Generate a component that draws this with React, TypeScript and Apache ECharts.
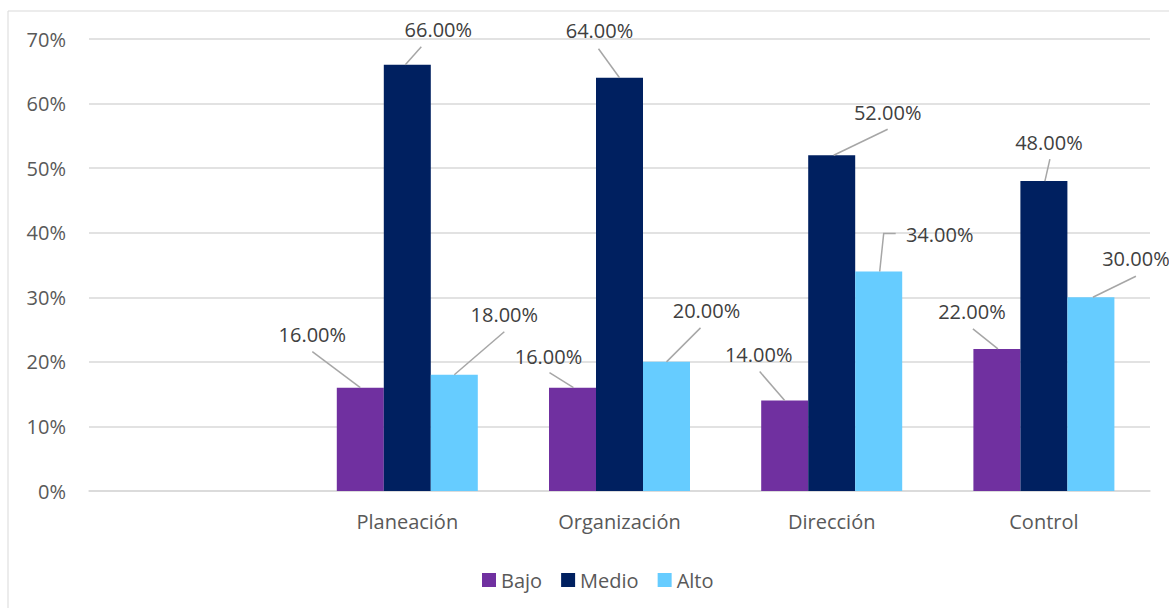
import React, { useEffect, useRef } from "react";
import * as echarts from "echarts";

const categories = ["", "Planeación", "Organización", "Dirección", "Control"];
const seriesNames = ["Bajo", "Medio", "Alto"];
const bajo = [null, 16, 16, 14, 22];
const medio = [null, 66, 64, 52, 48];
const alto = [null, 18, 20, 34, 30];
const yTicks = [0, 10, 20, 30, 40, 50, 60, 70];

const colors = ["#7030A0", "#002060", "#66CCFF"];
const BAR_W = 47;

// label text centre offsets relative to bar top centre [series][dataIndex]
const labelOffsets: number[][][] = [
  [[0, 0], [-48, -53], [-24, -31], [-26, -46], [-25, -37]],
  [[0, 0], [31, -35], [-20, -47], [56, -43], [5, -39]],
  [[0, 0], [50, -60], [40, -51], [61, -37], [45, -39]],
];
// leader line points relative to bar top centre
const linePoints: number[][][][] = [
  [[], [[-48, -36], [0, 0]], [[-23, -15], [1, 0]], [[-25, -29], [0, 0]], [[-24, -20], [1, 0]]],
  [[], [[14, -18], [-2, 0]], [[-21, -29], [0, 0]], [[56, -26], [2, 0]], [[6, -22], [1, 0]]],
  [[], [[50, -43], [0, 0]], [[34, -34], [0, 0]], [[17, -38], [5, -38], [1, 0]], [[45, -21], [2, 0]]],
];

const FONT = "'Open Sans', 'Noto Sans', sans-serif";

export default function App() {
  const ref = useRef<HTMLDivElement>(null);
  useEffect(() => {
    const chart = echarts.init(ref.current!, undefined, { renderer: "svg" });
    const dataSets = [bajo, medio, alto];
    const leaderData: any[] = [];
    dataSets.forEach((arr, si) =>
      arr.forEach((v, i) => {
        if (v != null) leaderData.push([i, v, si]);
      })
    );
    chart.setOption({
      animation: false,
      textStyle: { fontFamily: FONT },
      graphic: [
        {
          type: "rect",
          shape: { x: 8, y: 11, width: 1200, height: 700 },
          style: { fill: "none", stroke: "#d9d9d9", lineWidth: 1 },
          silent: true,
        },
      ],
      grid: { left: 89, right: 19, top: 39, bottom: 117 },
      legend: {
        data: seriesNames,
        left: 477,
        top: 565,
        icon: "rect",
        itemWidth: 14,
        itemHeight: 14,
        itemGap: 19,
        textStyle: { fontSize: 20, color: "#595959", fontFamily: FONT },
      },
      xAxis: {
        type: "category",
        data: categories,
        axisLine: { show: true, lineStyle: { color: "#d9d9d9", width: 1.5 } },
        axisTick: { show: false },
        axisLabel: { fontSize: 20, color: "#595959", margin: 20, fontFamily: FONT },
      },
      yAxis: {
        type: "value",
        min: yTicks[0],
        max: yTicks[yTicks.length - 1],
        interval: 10,
        axisLine: { show: false },
        axisTick: { show: false },
        splitLine: { lineStyle: { color: "#d9d9d9", width: 1.5 } },
        axisLabel: {
          fontSize: 20,
          color: "#595959",
          margin: 23,
          fontFamily: FONT,
          formatter: (v: number) => `${v}%`,
        },
      },
      series: [
        ...seriesNames.map((name, si) => ({
          name,
          type: "bar",
          data: dataSets[si],
          barWidth: BAR_W,
          barGap: "0%",
          itemStyle: { color: colors[si] },
          label: {
            show: true,
            position: "top",
            fontSize: 20,
            color: "#404040",
            fontFamily: FONT,
            formatter: (p: any) => `${Number(p.value).toFixed(2)}%`,
          },
          labelLayout: (params: any) => {
            const r = params.rect;
            const cx = r.x + r.width / 2;
            const top = r.y;
            const off = labelOffsets[si][params.dataIndex] || [0, 0];
            return {
              x: cx + off[0],
              y: top + off[1],
              align: "center",
              verticalAlign: "middle",
            };
          },
        })),
        {
          type: "custom",
          name: "leaders",
          silent: true,
          z: 5,
          data: leaderData,
          renderItem: (params: any, api: any) => {
            const i = api.value(0);
            const v = api.value(1);
            const si = api.value(2);
            const pt = api.coord([i, v]);
            const cx = pt[0] + (si - 1) * BAR_W;
            const top = pt[1];
            const pts = (linePoints[si][i] || []).map((p) => [cx + p[0], top + p[1]]);
            return {
              type: "polyline",
              shape: { points: pts },
              style: { stroke: "#a6a6a6", lineWidth: 1.5, fill: "none" },
            };
          },
        },
      ],
    });
    return () => chart.dispose();
  }, []);
  return (
    <div
      ref={ref}
      style={{ position: "absolute", left: 0, top: 0, width: 1169, height: 608, background: "#fff" }}
    />
  );
}
